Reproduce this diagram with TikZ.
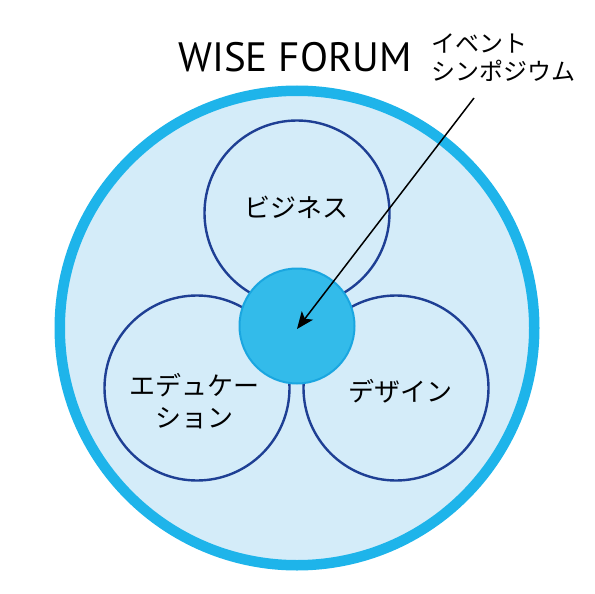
\documentclass[tikz,border=0pt]{standalone}
\usepackage{fontspec}
\setmainfont{PT Sans}
\newfontfamily\jp{Noto Sans CJK JP}
\usetikzlibrary{arrows.meta}
\definecolor{bandblue}{HTML}{1EB4EA}
\definecolor{lightfill}{HTML}{D4ECF9}
\definecolor{hubfill}{HTML}{33BBEA}
\definecolor{hubdraw}{HTML}{1AA6E0}
\definecolor{navy}{HTML}{1E3F94}
\tikzset{
  outer/.style={circle, draw=bandblue, fill=lightfill, line width=10.5pt, minimum size=474.5pt, inner sep=0pt, outer sep=0pt},
  field/.style={circle, draw=navy, fill=lightfill, line width=2.4pt, minimum size=185pt, inner sep=0pt, outer sep=0pt},
  hubstyle/.style={circle, draw=hubdraw, fill=hubfill, line width=2pt, minimum size=115pt, inner sep=0pt, outer sep=0pt},
  lbl/.style={font=\jp\fontsize{26}{32}\selectfont, align=center, inner sep=0pt, text=black},
  annot/.style={font=\jp\fontsize{24}{28}\selectfont, align=left, inner sep=0pt, text=black},
  pointer/.style={-{Stealth[length=17pt, width=14pt, inset=4pt]}, line width=1.5pt, black}
}
\begin{document}
\begin{tikzpicture}[x=1pt, y=-1pt]
\useasboundingbox (0,0) rectangle (595,594);
\node[outer] (forum) at (297,328) {};
\node[field] (biz) at (297,213) {};
\node[field] (edu) at (197,388) {};
\node[field] (des) at (396,388) {};
\node[hubstyle] (hub) at (297,326) {};
\node[lbl] (bizlabel) at (296.5,207.5) {ビジネス};
\node[lbl] (edulabel) at (194,401.5) {エデュケー\\ション};
\node[lbl] (deslabel) at (400.5,391.5) {デザイン};
\node[anchor=base, inner sep=0pt, font=\fontsize{41}{48}\selectfont] (title) at (295,72) {WISE FORUM};
\node[annot, anchor=west] (event) at (431,57.5) {イベント\\シンポジウム};
\coordinate (pstart) at (474,98);
\coordinate (ptip) at (297,329);
\draw[pointer] (pstart) -- (ptip);
\end{tikzpicture}
\end{document}
